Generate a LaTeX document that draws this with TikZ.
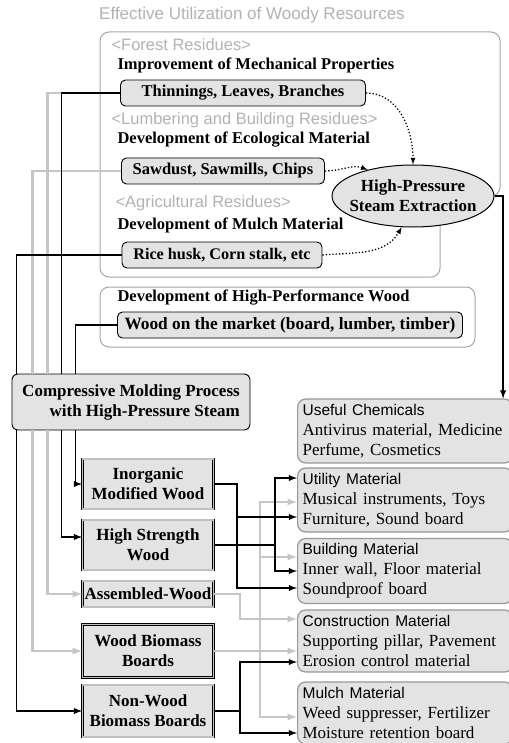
\documentclass[tikz,border=0pt]{standalone}
\usepackage{fontspec}
\setmainfont{Liberation Serif}
\newfontfamily\arial{Liberation Sans}
\usetikzlibrary{shapes.geometric}
\newcommand\sz{\fontsize{17}{20}\selectfont}
\newcommand\szs[1]{\fontsize{#1}{20}\selectfont}

\tikzset{
  every node/.style={font=\sz},
  lbl/.style={anchor=west,font=\szs{16.5}\bfseries},
  res/.style={anchor=west,text=gray!60,font=\szs{16.5}\arial},
  src/.style={draw,line width=0.9pt,rounded corners=5pt,fill=gray!22,minimum height=26pt,inner sep=2pt},
  prod/.style={draw,line width=0.8pt,double=gray!50,double distance=1.2pt,fill=gray!22,font=\sz\bfseries,align=center,minimum width=131pt,inner sep=1pt},
  use/.style={draw=gray!80,line width=1.2pt,rounded corners=8pt,fill=gray!22,anchor=west,align=left,text width=205pt,minimum height=62pt,inner sep=5pt},
  blk/.style={line width=1.8pt,black},
  gry/.style={line width=2.2pt,gray!45},
  dotline/.style={line width=1.3pt,dotted,-latex}
}
\newcommand\ttl[1]{{\szs{15.5}\arial #1}}

\begin{document}
\begin{tikzpicture}[x=1pt,y=-1pt]
\fill[white] (0,0) rectangle (508,743);
\useasboundingbox (0,0) rectangle (508,743);
% resource boxes
\node[text=gray!60,font=\sz\arial] (title) at (252,15) {Effective Utilization of Woody Resources};
\draw[gray!70,line width=1pt,rounded corners=9pt] (100,32) -- (500,32) -- (500,196) -- (440,196) -- (440,277) -- (100,277) -- cycle;
\draw[gray!70,line width=1pt,rounded corners=9pt] (100,287) rectangle (475,347);
\node[res] (forest) at (108,45) {<Forest Residues>};
\node[lbl] (mech) at (114,65) {Improvement of Mechanical Properties};
\node[src,minimum width=245pt,font=\szs{16.5}\bfseries] (thin) at (243,93) {Thinnings, Leaves, Branches};
\node[res] (lumber) at (108,120) {<Lumbering and Building Residues>};
\node[lbl] (eco) at (114,140) {Development of Ecological Material};
\node[src,minimum width=203pt,font=\szs{16.5}\bfseries] (saw) at (223,171) {Sawdust, Sawmills, Chips};
\node[res] (agri) at (112,203) {<Agricultural Residues>};
\node[lbl] (mdev) at (114,225) {Development of Mulch Material};
\node[src,minimum width=200pt,font=\szs{16.2}\bfseries] (rice) at (222,255) {Rice husk, Corn stalk, etc};
\node[lbl] (hpw) at (114,298) {Development of High-Performance Wood};
\node[src,minimum width=345pt,font=\szs{17.3}\bfseries] (market) at (290,325) {Wood on the market (board, lumber, timber)};
\node[ellipse,draw,line width=1pt,fill=gray!22,font=\sz\bfseries,align=center,minimum width=162pt,minimum height=62pt,inner xsep=-14pt,inner ysep=-4pt] (steam) at (413,196) {High-Pressure\\Steam Extraction};
% process and products
\node[draw,line width=0.9pt,rounded corners=6pt,fill=gray!22,font=\sz\bfseries,align=right,minimum width=238pt,minimum height=56pt] (cmp) at (131,402) {Compressive Molding Process\\with High-Pressure Steam};
\node[prod,minimum height=50pt] (inorg) at (148,484) {Inorganic\\Modified Wood};
\node[prod,minimum height=50pt] (hsw) at (148,545) {High Strength\\Wood};
\node[prod,minimum height=26pt] (asm) at (148,594) {Assembled-Wood};
\node[prod,minimum height=53pt] (wbb) at (148,651) {Wood Biomass\\Boards};
\node[prod,minimum height=52pt] (nwb) at (148,711) {Non-Wood\\Biomass Boards};
\node[use] (chem) at (297,431) {\ttl{Useful Chemicals}\\Antivirus material, Medicine\\Perfume, Cosmetics};
\node[use] (util) at (297,500) {\ttl{Utility Material}\\ Musical instruments, Toys\\ Furniture, Sound board};
\node[use] (bldg) at (297,571) {\ttl{Building Material}\\Inner wall, Floor material\\Soundproof board};
\node[use] (cons) at (297,641) {\ttl{Construction Material}\\Supporting pillar, Pavement\\Erosion control material};
\node[use] (mul) at (297,713) {\ttl{Mulch Material}\\Weed suppresser, Fertilizer\\Moisture retention board};
% gray routes
\draw[gry] (saw.west) -| ([xshift=21pt]cmp.north west);
\draw[gry] (thin.west) -| ([xshift=36pt]cmp.north west);
\draw[gry][-latex] ([xshift=21pt]cmp.south west) |- (wbb.west);
\draw[gry][-latex] ([xshift=36pt]cmp.south west) |- (asm.west);
\draw[gry][-latex] (asm.east) -| ([xshift=-57pt,yshift=22pt]cons.west) -- ([yshift=22pt]cons.west);
\draw[gry][-latex] (wbb.east) -| ([xshift=-37pt,yshift=-2pt]util.west) -- ([yshift=-2pt]util.west);
\draw[gry][-latex] (wbb.east) -| ([xshift=-37pt,yshift=14pt]bldg.west) -- ([yshift=14pt]bldg.west);
\draw[gry][-latex] (wbb.east) -- (wbb.east -| cons.west);
\draw[gry][-latex] (wbb.east) -| ([xshift=-37pt,yshift=-4pt]mul.west) -- ([yshift=-4pt]mul.west);
% black routes
\draw[blk] (rice.west) -| ([xshift=5pt]cmp.north west);
\draw[blk] (thin.west) -| ([xshift=50pt]cmp.north west);
\draw[blk] (market.west) -| ([xshift=64pt]cmp.north west);
\draw[blk][-latex] ([xshift=5pt]cmp.south west) |- (nwb.west);
\draw[blk][-latex] ([xshift=50pt]cmp.south west) |- ([yshift=8pt]hsw.west);
\draw[blk][-latex] ([xshift=64pt]cmp.south west) |- (inorg.west);
\draw[blk][-latex] (inorg.east) -| ([xshift=-60pt,yshift=-17pt]util.west) -- ([yshift=-17pt]util.west);
\draw[blk][-latex] (inorg.east) -| ([xshift=-60pt,yshift=-17pt]bldg.west) -- ([yshift=-17pt]bldg.west);
\draw[blk][-latex] (hsw.east) -| ([xshift=-22pt,yshift=22pt]util.west) -- ([yshift=22pt]util.west);
\draw[blk][-latex] (hsw.east) -| ([xshift=-22pt]bldg.west) -- (bldg.west);
\draw[blk][-latex] (nwb.east) -| ([xshift=-57pt,yshift=-21pt]cons.west) -- ([yshift=-21pt]cons.west);
\draw[blk][-latex] (nwb.east) -| ([xshift=-57pt,yshift=-20pt]mul.west) -- ([yshift=-20pt]mul.west);
\draw[blk][-latex] (steam.east) -| ([xshift=98pt]chem.north);
% steam extraction feeds
\draw[dotline] (thin.east) to[out=0,in=90] (steam.north);
\draw[dotline] (saw.east) to[out=0,in=160] (steam.150);
\draw[dotline] (rice.east) to[out=5,in=-120] (steam.250);
\end{tikzpicture}
\end{document}
